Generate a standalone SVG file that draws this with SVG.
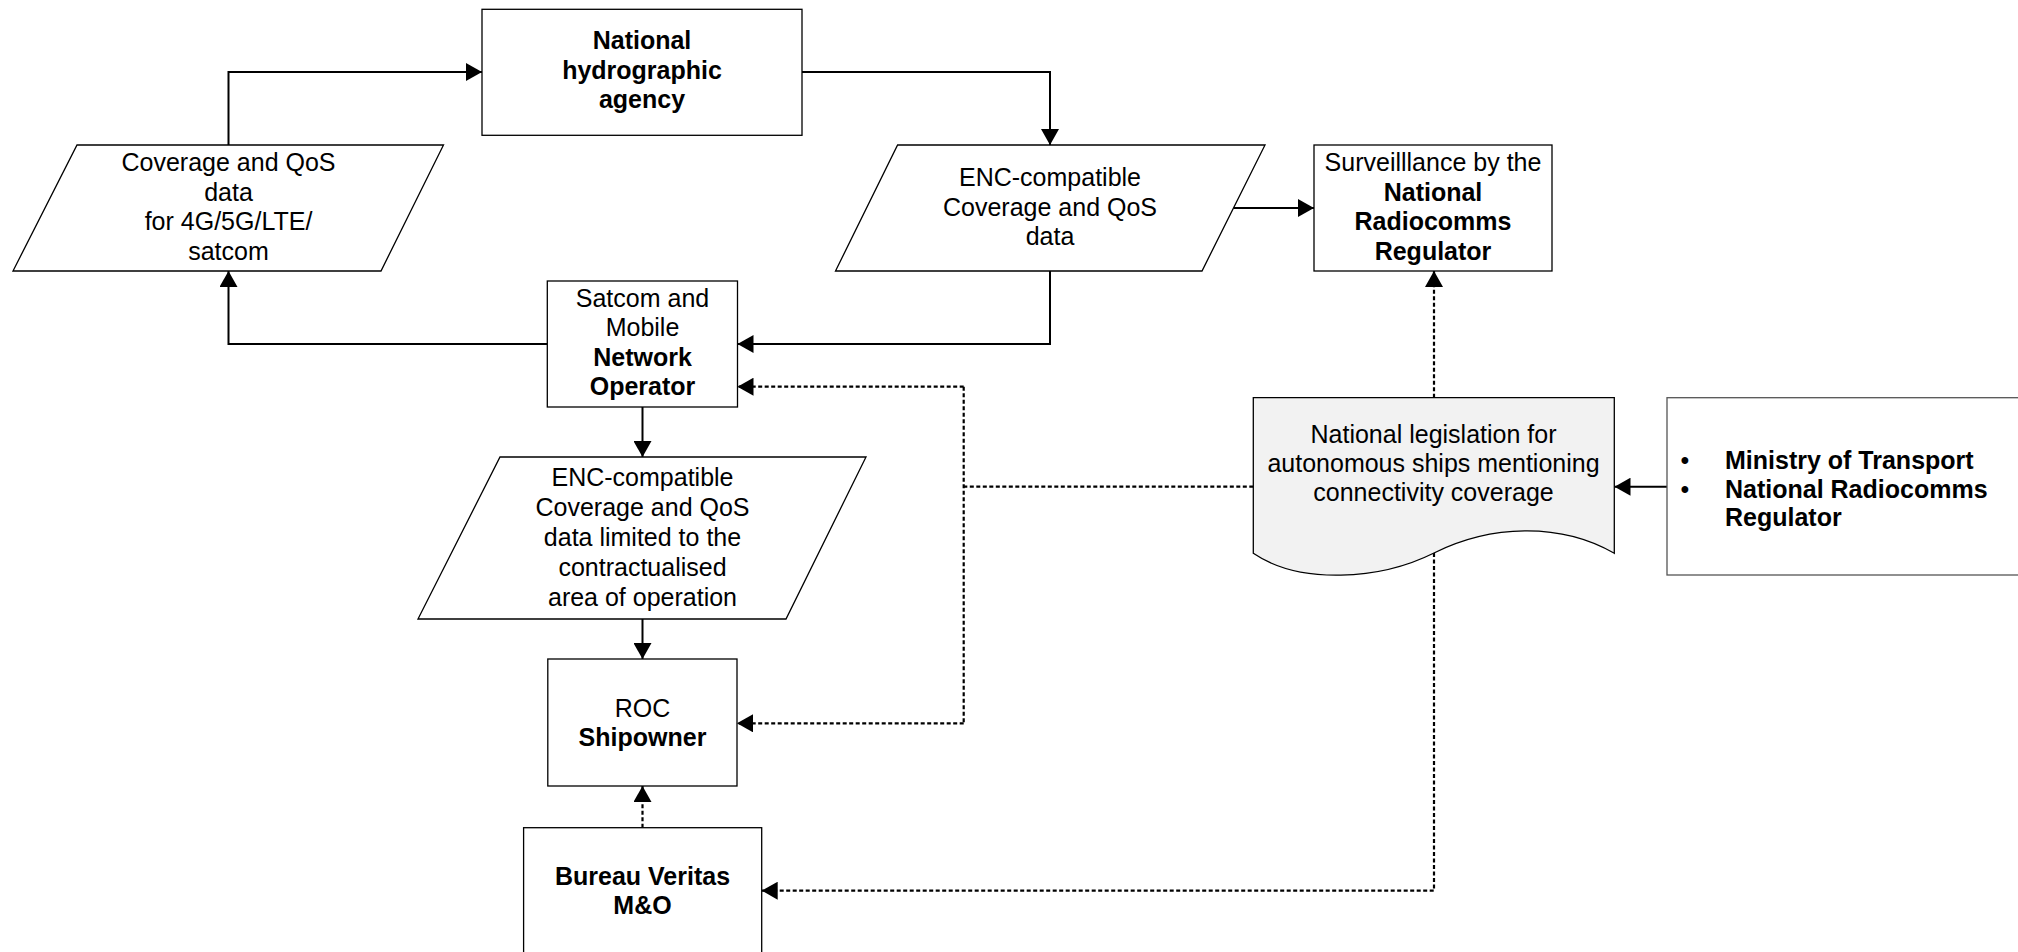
<svg xmlns="http://www.w3.org/2000/svg" width="2018" height="952" viewBox="0 0 2018 952">
  <defs>
    <marker id="arrow" markerUnits="userSpaceOnUse" markerWidth="17" markerHeight="18" refX="16" refY="9" orient="auto">
      <path d="M0,0 L16,9 L0,18 Z" fill="#000"/>
    </marker>
    <style>
      .box { fill: #fff; stroke: #000; stroke-width: 1.3; }
      .doc { fill: #f2f2f2; stroke: #000; stroke-width: 1.3; }
      .t { font-family: "Liberation Sans", Arial, sans-serif; font-size: 25px; fill: #000; text-anchor: middle; }
      .b { font-weight: bold; }
      .s { text-anchor: start; }
      .solid { fill: none; stroke: #000; stroke-width: 2; }
      .dash { fill: none; stroke: #000; stroke-width: 2.2; stroke-dasharray: 4 2.5; }
    </style>
  </defs>
  <rect width="2018" height="952" fill="#fff"/>

  <!-- connectors -->
  <g id="connectors">
    <path class="solid" d="M228.5,145 V72 H482" marker-end="url(#arrow)"/>
    <path class="solid" d="M802,72 H1050 V145" marker-end="url(#arrow)"/>
    <path class="solid" d="M1233.5,208 H1314" marker-end="url(#arrow)"/>
    <path class="solid" d="M1050,271 V344 H737.5" marker-end="url(#arrow)"/>
    <path class="solid" d="M547.3,344 H228.5 V271" marker-end="url(#arrow)"/>
    <path class="solid" d="M642.5,407 V457" marker-end="url(#arrow)"/>
    <path class="solid" d="M642.5,619 V659" marker-end="url(#arrow)"/>
    <path class="solid" d="M1667,486.7 H1614.5" marker-end="url(#arrow)"/>
    <path class="dash" d="M1253.3,486.7 H963.7"/>
    <path class="dash" d="M963.7,386.7 V723.3"/>
    <path class="dash" d="M963.7,386.7 H737.5" marker-end="url(#arrow)"/>
    <path class="dash" d="M963.7,723.3 H737" marker-end="url(#arrow)"/>
    <path class="dash" d="M1434,397.7 V271" marker-end="url(#arrow)"/>
    <path class="dash" d="M1434,553 V890.7 H761.7" marker-end="url(#arrow)"/>
    <path class="dash" d="M642.5,827.7 V786" marker-end="url(#arrow)"/>
  </g>

  <!-- National hydrographic agency -->
  <g id="hydrographic-agency">
    <rect class="box" x="482" y="9.3" width="320" height="126"/>
    <text class="t b" x="642" y="49">National</text>
    <text class="t b" x="642" y="78.5">hydrographic</text>
    <text class="t b" x="642" y="108">agency</text>
  </g>

  <!-- Coverage and QoS data -->
  <g id="coverage-data">
    <polygon class="box" points="77,145 443.5,145 381,271 13,271"/>
    <text class="t" x="228.5" y="170.7">Coverage and QoS</text>
    <text class="t" x="228.5" y="200.5">data</text>
    <text class="t" x="228.5" y="230.3">for 4G/5G/LTE/</text>
    <text class="t" x="228.5" y="260">satcom</text>
  </g>

  <!-- ENC-compatible data -->
  <g id="enc-data">
    <polygon class="box" points="897.6,145 1265,145 1202,271 835.5,271"/>
    <text class="t" x="1050" y="186">ENC-compatible</text>
    <text class="t" x="1050" y="215.5">Coverage and QoS</text>
    <text class="t" x="1050" y="245">data</text>
  </g>

  <!-- Surveillance -->
  <g id="surveillance">
    <rect class="box" x="1314" y="145" width="238" height="126"/>
    <text class="t" x="1433" y="170.7">Surveilllance by the</text>
    <text class="t b" x="1433" y="200.5">National</text>
    <text class="t b" x="1433" y="230.3">Radiocomms</text>
    <text class="t b" x="1433" y="260">Regulator</text>
  </g>

  <!-- Network operator -->
  <g id="network-operator">
    <rect class="box" x="547.3" y="281" width="190.2" height="126"/>
    <text class="t" x="642.5" y="306.5">Satcom and</text>
    <text class="t" x="642.5" y="336">Mobile</text>
    <text class="t b" x="642.5" y="365.5">Network</text>
    <text class="t b" x="642.5" y="395">Operator</text>
  </g>

  <!-- ENC-compatible limited data -->
  <g id="enc-limited-data">
    <polygon class="box" points="500,457 866,457 786,619 418,619"/>
    <text class="t" x="642.5" y="486">ENC-compatible</text>
    <text class="t" x="642.5" y="516">Coverage and QoS</text>
    <text class="t" x="642.5" y="546">data limited to the</text>
    <text class="t" x="642.5" y="576">contractualised</text>
    <text class="t" x="642.5" y="606">area of operation</text>
  </g>

  <!-- ROC Shipowner -->
  <g id="roc-shipowner">
    <rect class="box" x="547.8" y="659" width="189.2" height="127"/>
    <text class="t" x="642.5" y="716.5">ROC</text>
    <text class="t b" x="642.5" y="746">Shipowner</text>
  </g>

  <!-- Bureau Veritas -->
  <g id="bureau-veritas">
    <rect class="box" x="523.6" y="827.7" width="238.1" height="140"/>
    <text class="t b" x="642.5" y="885">Bureau Veritas</text>
    <text class="t b" x="642.5" y="914">M&amp;O</text>
  </g>

  <!-- National legislation document -->
  <g id="legislation">
    <path class="doc" d="M1253.3,397.7 H1614.3 V553.3 C1560,522 1490,525 1434,553 C1380,580 1300,585 1253.3,553.3 Z"/>
    <text class="t" x="1433.5" y="442.7">National legislation for</text>
    <text class="t" x="1433.5" y="471.7">autonomous ships mentioning</text>
    <text class="t" x="1433.5" y="500.7">connectivity coverage</text>
  </g>

  <!-- Ministry / Regulator -->
  <g id="authorities">
    <rect x="1667" y="397.7" width="400" height="177.3" fill="#fff" stroke="#555" stroke-width="1.3"/>
    <text class="t" x="1685" y="469">•</text>
    <text class="t" x="1685" y="497.5">•</text>
    <text class="t b s" x="1725" y="469">Ministry of Transport</text>
    <text class="t b s" x="1725" y="497.5">National Radiocomms</text>
    <text class="t b s" x="1725" y="526">Regulator</text>
  </g>
</svg>
